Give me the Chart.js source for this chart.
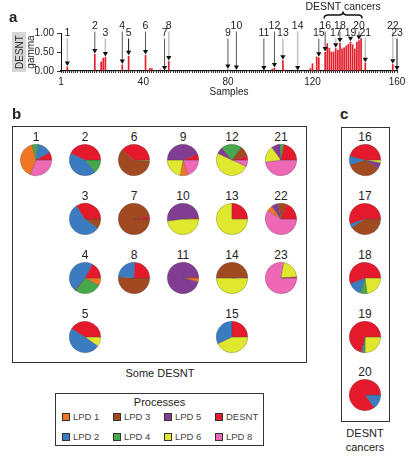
<!DOCTYPE html>
<html>
<head>
<meta charset="utf-8">
<script src="https://cdn.jsdelivr.net/npm/chart.js@4.4.1/dist/chart.umd.min.js"></script>
<style>
  body { margin: 0; background: #fff; font-family: "Liberation Sans", Arial, sans-serif; color: #222; }
  #fig { position: relative; width: 410px; height: 457px; overflow: hidden; }
  .letter { position: absolute; font-weight: bold; font-size: 15px; line-height: 15px; }
  .box { position: absolute; border: 1px solid #333; box-sizing: border-box; }
  .pieLabel { position: absolute; width: 40px; text-align: center; font-size: 12px; line-height: 12px; }
  .caption { position: absolute; text-align: center; font-size: 11px; line-height: 14px; }
  .swatch { position: absolute; width: 8px; height: 8px; border: 1px solid #333; box-sizing: border-box; }
  .item { position: absolute; font-size: 9.5px; line-height: 10px; color: #444; }
  #desntTag { position: absolute; left: 12px; top: 32px; width: 14px; height: 40px; background: #d6d6d6; }
  #desntTag span { position: absolute; left: 50%; top: 50%; font-size: 10px; color: #333;
    transform: translate(-50%, -50%) rotate(-90deg); white-space: nowrap; }
</style>
</head>
<body>
<div id="fig">
  <canvas id="barChart" width="410" height="100" style="position:absolute;left:0;top:0;"></canvas>
  <div class="letter" style="left:9px;top:9px;">a</div>
  <div id="desntTag"><span>DESNT</span></div>

  <div class="letter" style="left:12px;top:106px;">b</div>
  <div class="box" style="left:12px;top:126px;width:295px;height:237px;"></div>
  <div class="caption" style="left:100px;top:366px;width:120px;">Some DESNT</div>

  <div class="letter" style="left:340px;top:106px;">c</div>
  <div class="box" style="left:341px;top:127px;width:49px;height:295px;"></div>
  <div class="caption" style="left:325px;top:426px;width:80px;">DESNT<br>cancers</div>

  <div class="box" id="legendBox" style="left:55px;top:393px;width:209px;height:53px;">
    <div class="caption" style="left:0;top:1px;width:207px;font-size:11px;">Processes</div>
  </div>
  <div id="pies"></div>
</div>

<script>
// ---------------- panel a: DESNT gamma per sample ----------------
const xTickLabels = [1, 40, 80, 120, 160];
const barSamples = [4, 17, 20, 21, 22, 30, 33, 36, 41, 43, 44, 48, 52, 80, 84, 101, 102, 106, 107,
  119, 120, 122, 123,
  126, 127, 128, 129, 130, 131, 132, 133, 134, 135, 136, 137, 138, 139, 140, 141, 142, 143,
  145, 158];
const barValues = [0.12, 0.45, 0.25, 0.35, 0.37, 0.17, 0.40, 0.02, 0.42, 0.08, 0.07, 0.04, 0.26, 0.04, 0.01, 0.06, 0.08, 0.28, 0.03,
  0.07, 0.20, 0.38, 0.36,
  0.50, 0.73, 0.61, 0.51, 0.51, 0.60, 0.56, 0.74, 0.59, 0.62, 0.67, 0.71, 0.77, 0.70, 0.59, 0.77, 0.81, 0.86,
  0.22, 0.18];

// sample each numbered pie (1..23) points to
const labelSamples = [4, 17, 22, 30, 33, 41, 50, 52, 80, 84, 97, 102, 106, 113, 123,
  126, 131, 133, 138, 142, 145, 158, 160];
const cancerRange = [126, 143];

// line shade for each pointer (style only)
const lineShade = ["l", "m", "l", "m", "k", "m", "m", "l", "m", "m", "m", "m", "l", "l", "m",
  "m", "l", "m", "m", "m", "l", "l", "k"];
const shadeColor = { l: "#c4c4c4", m: "#555", k: "#111" };

const valueAt = (s) => {
  const i = barSamples.indexOf(s);
  return i < 0 ? 0 : barValues[i];
};

// Plugin: numbered pointers, triangles and the brace over the cancers
const pointerPlugin = {
  id: "pointers",
  afterDatasetsDraw(chart) {
    const { ctx, chartArea, scales: { x, y } } = chart;
    ctx.save();
    ctx.font = '10.5px "Liberation Sans", Arial, sans-serif';
    ctx.textAlign = "center";
    ctx.textBaseline = "middle";
    labelSamples.forEach((s, i) => {
      const num = i + 1;
      const px = x.getPixelForValue(s);
      const tipY = y.getPixelForValue(valueAt(s)) - 0.5;
      const textY = num % 2 === 1 ? chartArea.top + 0.5 : chartArea.top - 6.5;
      const shade = lineShade[i];
      ctx.fillStyle = "#222";
      ctx.fillText(String(num), px, textY);
      ctx.strokeStyle = shadeColor[shade];
      ctx.lineWidth = shade === "l" ? 1.6 : 1;
      ctx.beginPath();
      ctx.moveTo(px, textY + 5);
      ctx.lineTo(px, tipY - 4);
      ctx.stroke();
      ctx.fillStyle = "#111";
      ctx.beginPath();
      ctx.moveTo(px - 2.6, tipY - 4.5);
      ctx.lineTo(px + 2.6, tipY - 4.5);
      ctx.lineTo(px, tipY);
      ctx.closePath();
      ctx.fill();
    });

    // brace + title
    const x1 = x.getPixelForValue(cancerRange[0] - 0.5);
    const x2 = x.getPixelForValue(cancerRange[1] + 0.5);
    const mid = (x1 + x2) / 2;
    ctx.strokeStyle = "#111";
    ctx.lineWidth = 1.4;
    ctx.beginPath();
    ctx.moveTo(x1, 18.5);
    ctx.quadraticCurveTo(x1, 15, x1 + 4, 15);
    ctx.lineTo(mid - 4, 15);
    ctx.quadraticCurveTo(mid, 15, mid, 11.5);
    ctx.quadraticCurveTo(mid, 15, mid + 4, 15);
    ctx.lineTo(x2 - 4, 15);
    ctx.quadraticCurveTo(x2, 15, x2, 18.5);
    ctx.stroke();
    ctx.fillStyle = "#222";
    ctx.font = '10.5px "Liberation Sans", Arial, sans-serif';
    ctx.fillText("DESNT cancers", mid, 7.5);
    ctx.restore();
  },
};

new Chart(document.getElementById("barChart"), {
  type: "bar",
  data: {
    datasets: [
      {
        data: barSamples.map((s, i) => ({ x: s, y: barValues[i] })),
        backgroundColor: "#e3202c",
        barPercentage: 0.95,
        categoryPercentage: 0.85,
      },
    ],
  },
  options: {
    responsive: false,
    animation: false,
    layout: { padding: { left: 22, right: 13, top: 33, bottom: 0 } },
    plugins: { legend: { display: false }, tooltip: { enabled: false } },
    scales: {
      x: {
        type: "linear",
        min: 1,
        max: 160,
        offset: false,
        grid: { drawOnChartArea: false, offset: false, tickLength: 2, color: "#333" },
        border: { color: "#111", width: 1.2 },
        ticks: {
          stepSize: 1,
          autoSkip: false,
          maxRotation: 0,
          padding: 3,
          color: "#222",
          font: { size: 10, family: '"Liberation Sans", Arial, sans-serif' },
          callback: (v) => (xTickLabels.includes(v) ? String(v) : ""),
        },
        title: {
          display: true,
          text: "Samples",
          color: "#222",
          font: { size: 10, family: '"Liberation Sans", Arial, sans-serif' },
          padding: { top: 0, bottom: 2 },
        },
        afterFit: (scale) => { scale.height = 29; },
      },
      y: {
        min: 0,
        max: 1,
        grid: { drawOnChartArea: false, tickLength: 4, color: "#333" },
        border: { color: "#111", width: 1 },
        ticks: {
          stepSize: 0.25,
          padding: 3,
          color: "#222",
          font: { size: 10, family: '"Liberation Sans", Arial, sans-serif' },
          callback: (v) => v.toFixed(2),
        },
        title: {
          display: true,
          text: "gamma",
          color: "#222",
          font: { size: 10, family: '"Liberation Sans", Arial, sans-serif' },
          padding: { top: 3, bottom: 0 },
        },
        afterFit: (scale) => { scale.width = 39; },
      },
    },
  },
  plugins: [pointerPlugin],
});

// ---------------- panels b and c: process shares per numbered sample ----------------
// one value per pie 1..23
const desnt = [0.08, 0.43, 0.34, 0.17, 0.41, 0.39, 0.03, 0.24, 0.06, 0.01, 0.01, 0.04, 0.25, 0.01, 0.25, 0.46, 0.55, 0.56, 0.71, 0.85, 0.22, 0.19, 0.01];
const lpd1 = [0.40, 0, 0, 0.08, 0, 0, 0, 0, 0.08, 0, 0.04, 0, 0, 0, 0, 0, 0, 0, 0, 0, 0, 0.06, 0];
const lpd2 = [0.15, 0.43, 0.56, 0.47, 0.49, 0, 0, 0.25, 0, 0, 0, 0, 0, 0, 0.32, 0.09, 0.04, 0.14, 0.02, 0.15, 0, 0, 0];
const lpd3 = [0, 0, 0.10, 0.01, 0, 0.60, 0.97, 0.51, 0, 0, 0, 0.11, 0, 0.49, 0, 0.36, 0.41, 0, 0, 0, 0, 0.09, 0];
const lpd4 = [0.06, 0.14, 0, 0.27, 0, 0, 0, 0, 0, 0, 0, 0.21, 0, 0, 0, 0, 0, 0.07, 0.02, 0, 0.04, 0, 0];
const lpd5 = [0, 0, 0, 0, 0, 0, 0, 0, 0.44, 0.51, 0.95, 0.07, 0, 0, 0, 0.06, 0, 0, 0, 0, 0.09, 0.07, 0];
const lpd6 = [0, 0, 0, 0, 0.10, 0.01, 0, 0, 0.22, 0.48, 0, 0.50, 0.75, 0.50, 0.43, 0.03, 0, 0.23, 0.25, 0, 0.17, 0, 0.21];
const lpd8 = [0.31, 0, 0, 0, 0, 0, 0, 0, 0.20, 0, 0, 0.07, 0, 0, 0, 0, 0, 0, 0, 0, 0.48, 0.59, 0.78];

const processNames = ["LPD 1", "LPD 2", "LPD 3", "LPD 4", "LPD 5", "LPD 6", "DESNT", "LPD 8"];
const processColors = {
  "LPD 1": "#f07522", "LPD 2": "#3b7bc0", "LPD 3": "#a14a22", "LPD 4": "#45a94b",
  "LPD 5": "#803d92", "LPD 6": "#dfe82f", "DESNT": "#e41a2c", "LPD 8": "#ee68b5",
};
// slices run counter-clockwise from 3 o'clock in this order
const sliceOrder = [
  ["DESNT", desnt], ["LPD 2", lpd2], ["LPD 3", lpd3], ["LPD 4", lpd4],
  ["LPD 5", lpd5], ["LPD 6", lpd6], ["LPD 1", lpd1], ["LPD 8", lpd8],
];

// layout of the pies (centres in px)
const colX = [36, 85, 134, 183, 232, 281];
const rowY = [160, 219, 278, 337];
const pieSpots = {
  1: [colX[0], rowY[0]], 2: [colX[1], rowY[0]], 6: [colX[2], rowY[0]], 9: [colX[3], rowY[0]], 12: [colX[4], rowY[0]], 21: [colX[5], rowY[0]],
  3: [colX[1], rowY[1]], 7: [colX[2], rowY[1]], 10: [colX[3], rowY[1]], 13: [colX[4], rowY[1]], 22: [colX[5], rowY[1]],
  4: [colX[1], rowY[2]], 8: [colX[2], rowY[2]], 11: [colX[3], rowY[2]], 14: [colX[4], rowY[2]], 23: [colX[5], rowY[2]],
  5: [colX[1], rowY[3]], 15: [colX[4], rowY[3]],
  16: [365, 160], 17: [365, 219], 18: [365, 278], 19: [365, 337], 20: [365, 395],
};

const fig = document.getElementById("fig");
Object.keys(pieSpots).forEach((key) => {
  const num = Number(key);
  const [cx, cy] = pieSpots[key];
  const k = num - 1;

  const label = document.createElement("div");
  label.className = "pieLabel";
  label.style.left = cx - 20 + "px";
  label.style.top = cy - 29 + "px";
  label.textContent = String(num);
  fig.appendChild(label);

  const canvas = document.createElement("canvas");
  canvas.width = 34;
  canvas.height = 34;
  canvas.style.position = "absolute";
  canvas.style.left = cx - 17 + "px";
  canvas.style.top = cy - 17 + "px";
  fig.appendChild(canvas);

  // Chart.js goes clockwise, so reverse and start at 3 o'clock
  const slices = sliceOrder.filter(([, arr]) => arr[k] > 0).reverse();
  new Chart(canvas, {
    type: "pie",
    data: {
      labels: slices.map(([name]) => name),
      datasets: [
        {
          data: slices.map(([, arr]) => arr[k]),
          backgroundColor: slices.map(([name]) => processColors[name]),
          borderColor: "rgba(70,70,70,0.55)",
          borderWidth: 0.5,
        },
      ],
    },
    options: {
      responsive: false,
      animation: false,
      rotation: 90,
      layout: { padding: 1 },
      plugins: { legend: { display: false }, tooltip: { enabled: false } },
    },
  });
});

// ---------------- legend ----------------
const legendBox = document.getElementById("legendBox");
processNames.forEach((name, i) => {
  const col = Math.floor(i / 2);
  const row = i % 2;
  const sw = document.createElement("div");
  sw.className = "swatch";
  sw.style.left = 6 + col * 51 + "px";
  sw.style.top = 19 + row * 19.5 + "px";
  sw.style.background = processColors[name];
  legendBox.appendChild(sw);
  const txt = document.createElement("div");
  txt.className = "item";
  txt.style.left = 17 + col * 51 + "px";
  txt.style.top = 18 + row * 19.5 + "px";
  txt.textContent = name;
  legendBox.appendChild(txt);
});
</script>
</body>
</html>
